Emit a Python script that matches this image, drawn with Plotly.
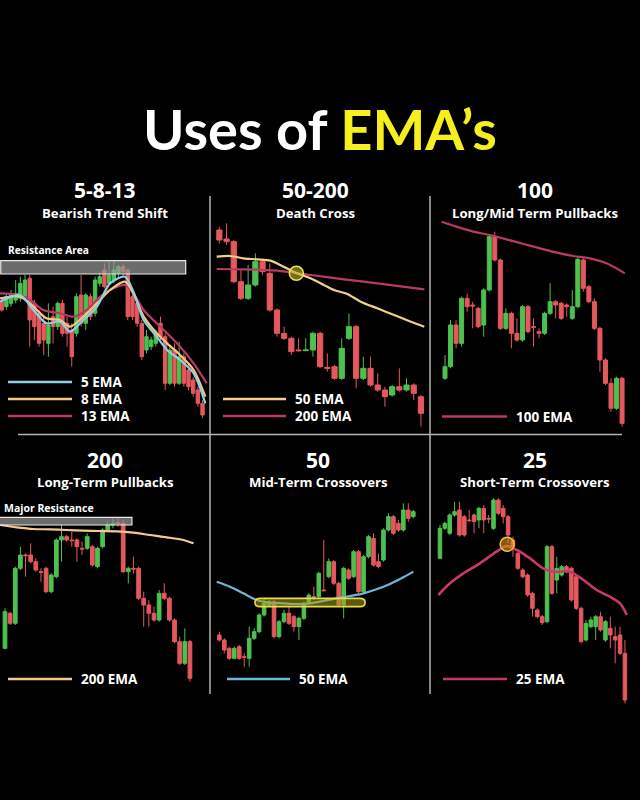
import plotly.graph_objects as go

W, H = 640, 800
GREEN = "#4cc14f"
RED = "#e4585e"

# ---------------- Panel 1 : 5-8-13 Bearish Trend Shift ----------------
p1_open  = [40.5, 39, 40, 41, 41.5, 42, 47.5, 40, 37, 34, 28, 36, 33, 40, 34, 32, 31, 42.5, 34, 42, 37, 46,
            50, 46, 47, 49, 51, 50, 42, 40, 34, 26, 27, 28, 34, 30, 16, 26, 16, 24, 20, 17, 14, 10]
p1_close = [38, 42, 42.5, 43, 46, 47, 35, 33, 28, 29, 33.5, 33, 40, 31, 31, 24, 42, 34, 42.5, 36, 47, 48,
            45, 48.5, 50, 51, 49.5, 36, 36, 34, 24, 30, 29, 31, 30, 16, 26, 16, 24, 16, 15, 13, 10, 6.5]
p1_high  = [41.5, 43, 44, 47, 48, 48.5, 48.5, 41, 38, 36, 40, 39, 40.5, 41, 36, 34, 43, 48.5, 43, 43, 48, 49.5,
            52, 52.5, 53, 51.5, 52, 50.5, 43, 41, 35, 32, 30, 32, 36, 31, 27, 28, 28.5, 25, 22, 18, 15, 11]
p1_low   = [37.5, 38, 39, 40, 40.5, 41, 27, 29, 27, 24.5, 24, 28, 32, 30, 27, 21, 30, 33, 32, 35, 36, 45,
            44.5, 45.5, 46, 48, 48, 35, 35, 33, 23, 25, 26, 27, 29, 14, 15.5, 15, 15.5, 15, 14, 12, 9, 5.5]
p1_ema_x   = [-0.36, 3.9, 6.8, 9.6, 12.5, 14.6, 17.5, 20.4, 23.2, 26.4, 28.2, 30.4, 33.2, 35.4, 38.2, 41.1, 43.6]
p1_ema5    = [40.5, 42.5, 38, 34, 34.5, 31.5, 35, 39, 46, 48, 43.5, 35, 30, 26, 23, 19, 10]
p1_ema8    = [41.5, 42, 39, 35.5, 35, 33, 36, 40, 44, 46.5, 43, 36, 31, 28, 24.5, 20, 12]
p1_ema13_x = [-0.36, 3.9, 6.1, 8.9, 12.5, 15.4, 18.2, 21.1, 23.9, 26.4, 28.2, 30.4, 33.2, 35.4, 38.2, 41.1, 43.9]
p1_ema13   = [43, 42.5, 41, 38, 37, 36, 38, 42, 44.5, 45.5, 43, 38, 34, 31, 27, 22, 16]
p1_zone_x = [-0.2, 39.4]
p1_zone_y = [48.8, 52.8]

# ---------------- Panel 2 : 50-200 Death Cross ----------------
p2_open  = [62, 59.3, 58.5, 46.5, 41.5, 45.5, 52.5, 49, 38, 31, 29.5, 26, 25.8, 26, 31, 20.8, 21, 17.5, 29.5,
            33, 17.5, 20.5, 15.5, 14, 12.5, 15, 14, 15.5, 12]
p2_close = [59, 58.5, 46.5, 41.5, 45.5, 52.5, 49.5, 38, 31, 29.5, 25.5, 25.8, 26, 31, 21, 20.5, 17.5, 26.5, 33,
            17.5, 20.5, 15.5, 14, 12, 15, 14, 15.5, 13, 7]
p2_high  = [63, 64, 59, 50, 51.5, 55, 53.5, 52, 38.5, 33, 30, 29.5, 29.6, 31.5, 31.5, 25, 21.5, 29.5, 37,
            33.5, 24, 24, 19, 15, 15.5, 20.5, 17.5, 16, 12.5]
p2_low   = [58, 57.5, 46, 41, 41, 45, 48.5, 37.5, 30, 29, 24.5, 25.5, 25.6, 24, 20.5, 19.5, 17, 17, 29,
            14.5, 17, 15, 13.5, 9, 12, 13.5, 13.5, 11, 3]
p2_ema50_x = [-0.37, 1.49, 3.35, 5.21, 7.07, 8.93, 10.79, 12.65, 14.51, 15.91, 17.77, 19.63, 21.95, 24.28, 26.6, 28.47]
p2_ema50   = [54, 54.2, 53.5, 53.2, 52.8, 51, 49, 47.5, 45.5, 44, 42.8, 40.5, 38.5, 36.5, 34.5, 33]
p2_ema200_x = [-0.37, 3.35, 8.0, 12.65, 17.3, 21.95, 28.47]
p2_ema200   = [50.3, 50.2, 49.8, 48.5, 47.2, 46, 44.2]
p2_cross = [10.7, 49.0]

# ---------------- Panel 3 : 100 Long/Mid Term Pullbacks ----------------
p3_open  = [17.5, 21, 33.5, 28, 41.5, 39.5, 38.5, 33.5, 44, 60, 53, 32.5, 37, 31, 29, 39, 33, 31.5, 31, 37,
            40.5, 40, 39.5, 35.5, 39, 53, 45, 40.5, 32.5, 23, 16, 8.5, 17.5]
p3_close = [21, 33.5, 28, 41.5, 39, 39.2, 33, 44, 60, 53, 32.5, 37, 31, 29, 39, 31.5, 32.8, 31, 37, 40.5,
            39.5, 35.5, 39, 39, 53.2, 44.5, 40.5, 32.5, 23, 16, 8.5, 17.5, 4]
p3_high  = [24.5, 35, 35, 42, 43, 40.5, 39, 44.5, 60.5, 61.5, 53.5, 38.5, 37.5, 35.5, 39.5, 39.5, 35.5, 32.5,
            37.5, 46, 41, 40.5, 40, 44, 53.8, 53.5, 45.5, 41.5, 33, 23.5, 17.5, 18, 18]
p3_low   = [17, 20.5, 26.5, 27, 37.5, 32.5, 32.5, 30, 43.5, 52.5, 32, 32, 26.5, 28.5, 28.5, 31, 27, 29.5,
            30.5, 36.5, 35.5, 35, 36, 35, 38.5, 43.5, 40, 32, 19.5, 15.5, 7.5, 8, 3]
p3_ema_x = [-0.6, 2.1, 5.1, 8.1, 11.1, 14.2, 17.2, 20.2, 23.2, 26.2, 29.2, 32.5]
p3_ema   = [64.5, 63, 61.5, 60.5, 59.2, 57.8, 56.5, 55.2, 54.2, 53.5, 52, 49]

# ---------------- Panel 4 : 200 Long-Term Pullbacks ----------------
p4_open  = [17.5, 28, 25, 41.5, 45.5, 45.5, 43.5, 40.5, 41.5, 34.5, 39, 50, 51, 50, 50, 47.5, 47.5, 48, 42,
            48, 53, 54.5, 55.2, 55, 40.5, 41.5, 41.5, 32.5, 30.5, 28, 26, 34, 32.5, 26, 19.5, 13, 19.5]
p4_close = [28.5, 25, 41.5, 45.5, 45.3, 43.5, 41, 40.3, 34.5, 39.5, 50, 51, 50, 49.8, 48, 47.3, 51, 42.5, 47.5,
            53, 54.5, 55, 55, 40.5, 41.5, 41.3, 32.5, 30.5, 28, 26, 34, 32.5, 26, 19.5, 13, 19.5, 8.5]
p4_high  = [29.5, 28.5, 42, 48, 46, 49, 44.5, 41.5, 42, 40, 50.5, 54.5, 51.5, 52.5, 50.5, 49.5, 52, 48.5, 48,
            53.5, 55.5, 56.5, 56.5, 56, 42, 45, 42, 34.5, 32, 30, 35, 37, 33, 26.5, 21, 23.5, 20]
p4_low   = [17.2, 24.5, 24.5, 41, 39, 43, 40.5, 37.5, 34, 34, 38.5, 43.5, 49.5, 48, 43.5, 45.5, 47, 42, 41.5,
            47.5, 52.5, 53.5, 54, 40, 37, 40, 32, 24, 24, 25.5, 25.5, 32, 25.5, 19, 12.5, 12.5, 7.5]
p4_ema_x = [-0.97, 2.27, 5.52, 8.77, 12.0, 15.3, 18.5, 21.8, 25.0, 28.2, 31.5, 34.7, 36.7]
p4_ema   = [54.5, 53.8, 53.3, 53.2, 53, 52.8, 52.7, 52.6, 52.2, 51.5, 50.8, 50, 49]
p4_zone_x = [-1.2, 24.7]
p4_zone_y = [54.5, 56.8]

# ---------------- Panel 5 : 50 Mid-Term Crossovers ----------------
p5_open  = [21.5, 20, 17.5, 14.5, 18, 15, 14.5, 20.5, 22.5, 27.5, 30.5, 31.5, 21, 25.5, 28, 27, 24, 26.5, 31, 33,
            33, 35, 39, 43.5, 37, 30.5, 41, 39, 46.5, 34.5, 45, 50.5, 43.5, 44, 53, 57, 55, 53, 59, 57]
p5_close = [20, 17, 14.5, 17.5, 14.5, 14.8, 20.5, 22.5, 27.5, 31, 31.5, 21, 25.5, 28, 25, 24, 26.5, 31, 33.5, 32.8,
            40, 34.8, 43.5, 37, 30.5, 41.5, 38.5, 46.5, 34.5, 45, 51, 42.5, 42, 53, 57, 52, 53, 59, 56.5, 58.5]
p5_high  = [22.5, 20.5, 18, 18, 18.5, 16, 24, 23.5, 28, 32.5, 32, 32, 26, 29, 30, 27.5, 27, 31.5, 34, 36,
            40.5, 50, 44.5, 44, 37.5, 42, 41.5, 47, 47, 45.5, 51.5, 52, 46, 53.5, 58, 57.5, 56, 61, 61, 59]
p5_low   = [19.5, 16, 14, 14.2, 14, 12, 12, 20, 22, 27, 30, 20.5, 20.5, 25, 24.5, 22.5, 20, 26, 30.5, 32,
            32.5, 34.5, 38.5, 36.5, 30, 26.5, 38, 38.5, 34, 34, 44.5, 42, 41.5, 43.5, 52.5, 51.5, 52.5, 52.5, 55.5, 56.5]
p5_ema_x = [-0.54, 2.14, 4.83, 7.5, 10.2, 12.9, 15.5, 18.2, 20.9, 23.6, 26.3, 29.0, 31.6, 34.3, 37.0, 39.0]
p5_ema   = [37.5, 36, 34, 32, 31.2, 31, 30.8, 31, 31.7, 32.5, 33.2, 34, 35.2, 36.8, 38.8, 40.5]
p5_zone_x = [7.37, 29.1]
p5_zone_y = [30.0, 32.5]

# ---------------- Panel 6 : 25 Short-Term Crossovers ----------------
p6_open  = [44.5, 53.5, 52, 57.5, 59, 57, 56, 57.5, 56, 59.5, 56.5, 53.5, 62, 59.5, 57, 50, 46, 41, 39.5, 34,
            29, 27, 25.5, 48, 38, 39.5, 42, 41.5, 39, 29.5, 20, 24, 24, 27, 20, 23.5, 21, 21.5, 16]
p6_close = [53.5, 55, 57.5, 58.5, 51.5, 51.5, 55.8, 55.5, 59.5, 56, 56.3, 62, 58, 57, 51.5, 48, 41.5, 39, 33.5, 29.5,
            27, 25.2, 48, 34, 41.5, 42, 40.5, 32, 29.5, 19.5, 25, 26, 27, 23, 25.5, 21.5, 20, 16, 2]
p6_high  = [54.5, 55.5, 58, 61.5, 61.5, 57.5, 59, 58, 60, 60.5, 57.5, 62.5, 62.5, 60.5, 57.5, 51, 46.5, 41.5, 40, 34.5,
            29.5, 27.5, 48.5, 48.5, 45, 42.5, 42.5, 42, 39.5, 30, 26, 27, 27.5, 28.5, 26, 27, 24, 24, 20]
p6_low   = [44.2, 53, 51.5, 57, 51, 51, 55.5, 52, 53.5, 52, 55, 53, 57.5, 55, 49, 45, 41, 38.5, 33, 27,
            26.5, 24.5, 25, 33.5, 34, 39, 40, 31.5, 29, 19, 19.5, 23.5, 20, 22.5, 19.5, 17.5, 13, 15.5, 1]
p6_ema_x = [-0.34, 2.05, 4.8, 8.2, 11.6, 13.7, 15.8, 18.5, 21.2, 23.3, 26.7, 29.5, 32.2, 34.9, 37.0, 38.4]
p6_ema   = [33.5, 37, 40, 43, 46.5, 48.2, 47, 44.5, 41.5, 40.5, 40.5, 38, 35, 33, 31, 27.5]
p6_cross = [13.8, 48.7]

FONT = "Open Sans"


def px(x):
    return x / W


def py(y):
    return 1 - y / H


fig = go.Figure()

panels = [
    dict(n=1, xd=(0, 210), yd=(220, 430), xr=(-0.36, 44.6), yr=(2, 65),
         o=p1_open, h=p1_high, l=p1_low, c=p1_close),
    dict(n=2, xd=(210, 430), yd=(220, 430), xr=(-1.3, 29.26), yr=(2, 65),
         o=p2_open, h=p2_high, l=p2_low, c=p2_close),
    dict(n=3, xd=(430, 640), yd=(220, 430), xr=(-2.71, 35.24), yr=(2, 65),
         o=p3_open, h=p3_high, l=p3_low, c=p3_close),
    dict(n=4, xd=(0, 210), yd=(490, 710), xr=(-0.97, 39.9), yr=(-1, 65),
         o=p4_open, h=p4_high, l=p4_low, c=p4_close),
    dict(n=5, xd=(210, 430), yd=(490, 710), xr=(-1.88, 42.36), yr=(-1, 65),
         o=p5_open, h=p5_high, l=p5_low, c=p5_close),
    dict(n=6, xd=(430, 640), yd=(490, 710), xr=(-2.05, 41.1), yr=(-1, 65),
         o=p6_open, h=p6_high, l=p6_low, c=p6_close),
]


def axref(n):
    return ("x", "y") if n == 1 else ("x%d" % n, "y%d" % n)


layout_axes = {}
for p in panels:
    n = p["n"]
    xa, ya = axref(n)
    suffix = "" if n == 1 else str(n)
    layout_axes["xaxis" + suffix] = dict(domain=[px(p["xd"][0]), px(p["xd"][1])], range=list(p["xr"]),
                                         visible=False, anchor=ya, fixedrange=True,
                                         rangeslider=dict(visible=False))
    layout_axes["yaxis" + suffix] = dict(domain=[py(p["yd"][1]), py(p["yd"][0])], range=list(p["yr"]),
                                         visible=False, anchor=xa, fixedrange=True)
    fig.add_trace(go.Candlestick(
        x=list(range(len(p["o"]))), open=p["o"], high=p["h"], low=p["l"], close=p["c"],
        increasing=dict(line=dict(color=GREEN, width=1), fillcolor=GREEN),
        decreasing=dict(line=dict(color=RED, width=1), fillcolor=RED),
        whiskerwidth=0, xaxis=xa, yaxis=ya, showlegend=False, hoverinfo="skip"))


def ema(n, xs, ys, color, width=2.2):
    xa, ya = axref(n)
    fig.add_trace(go.Scatter(x=xs, y=ys, mode="lines", xaxis=xa, yaxis=ya, showlegend=False,
                             hoverinfo="skip",
                             line=dict(color=color, width=width, shape="spline", smoothing=0.8)))


C_BLUE = "#8fd0e6"
C_YEL = "#f3c982"
C_PINK = "#b93a64"

ema(1, p1_ema13_x, p1_ema13, C_PINK)
ema(1, p1_ema_x, p1_ema8, C_YEL)
ema(1, p1_ema_x, p1_ema5, C_BLUE)
ema(2, p2_ema200_x, p2_ema200, C_PINK)
ema(2, p2_ema50_x, p2_ema50, "#f1d08a")
ema(3, p3_ema_x, p3_ema, C_PINK)
ema(4, p4_ema_x, p4_ema, "#f6c88f")
ema(5, p5_ema_x, p5_ema, "#6db8d9")
ema(6, p6_ema_x, p6_ema, "#c63a68", 2.6)

shapes = []

# resistance zones
for n, zx, zy in [(1, p1_zone_x, p1_zone_y), (4, p4_zone_x, p4_zone_y)]:
    xa, ya = axref(n)
    shapes.append(dict(type="rect", xref=xa, yref=ya, x0=zx[0], x1=zx[1], y0=zy[0], y1=zy[1],
                       fillcolor="rgba(150,150,150,0.72)", line=dict(color="#e8e8e8", width=1.2)))

# rounded capsule in panel 5
xa, ya = axref(5)
x0, x1 = p5_zone_x
y0, y1 = p5_zone_y
r = 0.84
ym = (y0 + y1) / 2
path = (f"M {x0 + r},{y0} L {x1 - r},{y0} Q {x1 + r * 0.25},{y0} {x1 + r * 0.25},{ym} "
        f"Q {x1 + r * 0.25},{y1} {x1 - r},{y1} L {x0 + r},{y1} Q {x0 - r * 0.25},{y1} {x0 - r * 0.25},{ym} "
        f"Q {x0 - r * 0.25},{y0} {x0 + r},{y0} Z")
shapes.append(dict(type="path", xref=xa, yref=ya, path=path,
                   fillcolor="rgba(170,160,20,0.55)", line=dict(color="#e9dc4a", width=1.6)))

# crossover circles
for n, (cx, cy), rx, ry, fill, col in [
        (2, p2_cross, 0.98, 2.1, "rgba(190,180,30,0.6)", "#f0e060"),
        (6, p6_cross, 1.44, 2.1, "rgba(225,150,30,0.6)", "#f2bd45")]:
    xa, ya = axref(n)
    shapes.append(dict(type="circle", xref=xa, yref=ya, x0=cx - rx, x1=cx + rx, y0=cy - ry, y1=cy + ry,
                       fillcolor=fill, line=dict(color=col, width=1.5)))

# dividers
DIV = "#b4b4b4"
for xv in (210, 430):
    shapes.append(dict(type="line", xref="paper", yref="paper", x0=px(xv), x1=px(xv), y0=py(196), y1=py(694),
                       line=dict(color=DIV, width=1.5)))
shapes.append(dict(type="line", xref="paper", yref="paper", x0=px(18), x1=px(622), y0=py(434.5), y1=py(434.5),
                   line=dict(color=DIV, width=1.5)))

annotations = []

# legends
legend_items = [
    (8, 72, 382, C_BLUE, "5 EMA"), (8, 72, 399, C_YEL, "8 EMA"), (8, 72, 416, C_PINK, "13 EMA"),
    (223, 286, 399, "#f1d08a", "50 EMA"), (223, 286, 416, C_PINK, "200 EMA"),
    (442, 507, 416.5, C_PINK, "100 EMA"),
    (8, 72, 679, "#f6c88f", "200 EMA"),
    (227, 290, 679, "#6db8d9", "50 EMA"),
    (443, 507, 679, "#c63a68", "25 EMA"),
]
for xs, xe, yv, col, txt in legend_items:
    shapes.append(dict(type="line", xref="paper", yref="paper", x0=px(xs), x1=px(xe), y0=py(yv), y1=py(yv),
                       line=dict(color=col, width=2.5)))
    annotations.append(dict(x=px(xe + 7), y=py(yv), xref="paper", yref="paper", xanchor="left", yanchor="middle",
                            text="<b>%s</b>" % txt, showarrow=False,
                            font=dict(family=FONT, size=13.5, color="white")))

# panel titles
titles = [
    (105, "5-8-13", "Bearish Trend Shift", 190, 213),
    (315, "50-200", "Death Cross", 190, 213),
    (535, "100", "Long/Mid Term Pullbacks", 190, 213),
    (105, "200", "Long-Term Pullbacks", 460, 482),
    (318, "50", "Mid-Term Crossovers", 460, 482),
    (535, "25", "Short-Term Crossovers", 460, 482),
]
for xc, big, small, y1, y2 in titles:
    annotations.append(dict(x=px(xc), y=py(y1), xref="paper", yref="paper", xanchor="center", yanchor="middle",
                            text="<b>%s</b>" % big, showarrow=False,
                            font=dict(family=FONT, size=21, color="white")))
    annotations.append(dict(x=px(xc), y=py(y2), xref="paper", yref="paper", xanchor="center", yanchor="middle",
                            text="<b>%s</b>" % small, showarrow=False,
                            font=dict(family=FONT, size=13.2, color="white")))

# zone labels
annotations.append(dict(x=px(6), y=py(250), xref="paper", yref="paper", xanchor="left", yanchor="middle",
                        text="<b>Resistance Area</b>", showarrow=False,
                        font=dict(family=FONT, size=10.2, color="white")))
annotations.append(dict(x=px(2), y=py(508), xref="paper", yref="paper", xanchor="left", yanchor="middle",
                        text="<b>Major Resistance</b>", showarrow=False,
                        font=dict(family=FONT, size=10.5, color="white")))

# main title
annotations.append(dict(x=px(320), y=py(128), xref="paper", yref="paper", xanchor="center", yanchor="middle",
                        text="<b>Uses of <span style='color:#f5ef1f'>EMA’s</span></b>", showarrow=False,
                        font=dict(family="Lato", size=56, color="white")))

fig.update_layout(width=W, height=H, margin=dict(l=0, r=0, t=0, b=0),
                  paper_bgcolor="black", plot_bgcolor="black", boxgap=0.28, boxgroupgap=0.0,
                  showlegend=False, shapes=shapes, annotations=annotations, **layout_axes)

fig.write_html("out.html", config=dict(displayModeBar=False),
               post_script="document.body.style.margin='0';document.body.style.background='black';")
